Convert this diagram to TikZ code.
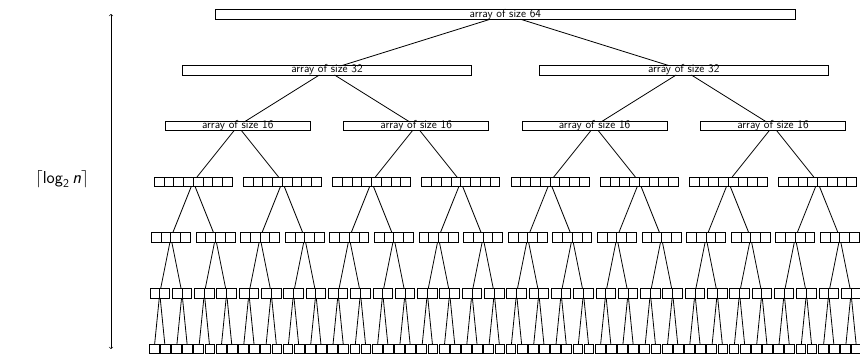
\documentclass[tikz,border=0pt]{standalone}
\begin{document}
\begin{tikzpicture}[x=1pt,y=-1pt,
  bigbox/.style={draw, line width=0.8pt, inner sep=0pt, outer sep=0pt, minimum height=9.5pt, font=\sffamily\fontsize{11.5}{12}\selectfont, text height=6.5pt, text depth=1.5pt},
  cellarr/.style={draw, line width=0.8pt, inner sep=0pt, outer sep=0pt, minimum height=9.5pt},
  cellsep/.style={line width=0.8pt},
  link/.style={line width=0.8pt},
  heightarrow/.style={<->, line width=0.6pt}]
\useasboundingbox (0,0) rectangle (860,354);
\foreach \l in {0,...,6}{
  \pgfmathtruncatemacro\cnt{2^\l}
  \pgfmathtruncatemacro\sz{2^(6-\l)}
  \pgfmathsetmacro\yy{14.5+55.75*\l}
  \pgfmathtruncatemacro\last{\cnt-1}
  \foreach \k in {0,...,\last}{
    \pgfmathsetmacro\xx{154.15+11.15*(\sz*\k+(\sz-1)/2)}
    \ifnum\l<3
      \pgfmathsetmacro\ww{\sz*9.05}
      \node[bigbox, minimum width=\ww pt] (L\l-\k) at (\xx,\yy) {array of size \sz};
    \else
      \pgfmathsetmacro\ww{\sz*9.75}
      \node[cellarr, minimum width=\ww pt] (L\l-\k) at (\xx,\yy) {};
      \ifnum\sz>1
        \pgfmathtruncatemacro\szm{\sz-1}
        \foreach \c in {1,...,\szm}{
          \draw[cellsep] ([xshift=\c*9.75pt]L\l-\k.south west) -- ([xshift=\c*9.75pt]L\l-\k.north west);
        }
      \fi
    \fi
    \ifnum\l>0
      \pgfmathtruncatemacro\pl{\l-1}
      \pgfmathtruncatemacro\pk{floor(\k/2)}
      \draw[link] (L\pl-\pk) -- (L\l-\k);
    \fi
  }
}
\coordinate (atop) at (111,14);
\coordinate (abot) at (111,349);
\draw[heightarrow] (atop) -- (abot);
\node[font=\fontsize{18}{22}\selectfont, inner sep=0pt] (lbl) at (62,179) {$\left\lceil \mathsf{log}_{\mathsf{2}}\, \textsf{\textit{n}} \right\rceil$};
\end{tikzpicture}
\end{document}
